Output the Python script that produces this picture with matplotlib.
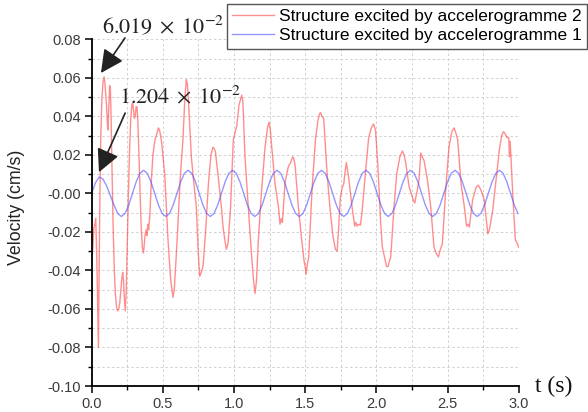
import numpy as np
import matplotlib
matplotlib.use("Agg")
import matplotlib.pyplot as plt
from matplotlib.ticker import MultipleLocator

# ---- data ----
red_t = [0.000, 0.008, 0.015, 0.022, 0.028, 0.033, 0.040, 0.047, 0.052, 0.058,
         0.064, 0.072, 0.080, 0.087, 0.092, 0.098, 0.104, 0.110, 0.114, 0.120,
         0.126, 0.131, 0.136, 0.142, 0.150, 0.158, 0.166, 0.175, 0.182, 0.190,
         0.197, 0.205, 0.212, 0.218, 0.224, 0.230, 0.236, 0.242, 0.250, 0.258,
         0.266, 0.274, 0.282, 0.288, 0.294, 0.300, 0.306, 0.312, 0.318, 0.324,
         0.332, 0.340, 0.348, 0.356, 0.364, 0.370, 0.376, 0.382, 0.388, 0.394,
         0.400, 0.408, 0.418, 0.430, 0.445, 0.458, 0.468, 0.476, 0.484, 0.492,
         0.513, 0.536, 0.555, 0.571, 0.580, 0.592, 0.606, 0.622, 0.641, 0.655,
         0.665, 0.672, 0.680, 0.700, 0.718, 0.735, 0.748, 0.759, 0.770, 0.782,
         0.800, 0.820, 0.838, 0.852, 0.862, 0.869, 0.890, 0.911, 0.923, 0.935,
         0.946, 0.958, 0.975, 0.995, 1.019, 1.035, 1.047, 1.054, 1.062, 1.077,
         1.100, 1.124, 1.138, 1.148, 1.158, 1.171, 1.194, 1.218, 1.235, 1.246,
         1.255, 1.265, 1.288, 1.312, 1.323, 1.333, 1.340, 1.358, 1.370, 1.382,
         1.398, 1.412, 1.420, 1.429, 1.452, 1.475, 1.492, 1.500, 1.506, 1.515,
         1.525, 1.548, 1.572, 1.590, 1.600, 1.607, 1.618, 1.630, 1.654, 1.677,
         1.695, 1.712, 1.724, 1.735, 1.747, 1.760, 1.771, 1.780, 1.789, 1.805,
         1.829, 1.848, 1.856, 1.864, 1.876, 1.888, 1.899, 1.923, 1.946, 1.965,
         1.980, 1.994, 2.010, 2.030, 2.042, 2.060, 2.072, 2.082, 2.092, 2.101,
         2.124, 2.143, 2.165, 2.183, 2.195, 2.207, 2.230, 2.253, 2.262, 2.270,
         2.280, 2.288, 2.300, 2.312, 2.322, 2.335, 2.359, 2.382, 2.405, 2.420,
         2.436, 2.450, 2.464, 2.487, 2.510, 2.530, 2.546, 2.560, 2.571, 2.595,
         2.618, 2.634, 2.645, 2.653, 2.676, 2.700, 2.716, 2.735, 2.758, 2.770,
         2.783, 2.794, 2.817, 2.841, 2.864, 2.880, 2.893, 2.905, 2.917, 2.930,
         2.935, 2.940, 2.958, 2.976, 2.990, 3.000]
red_v = [-0.035, -0.028, -0.018, -0.016, -0.013, -0.025, -0.050, -0.080, -0.040, 0.000,
         0.030, 0.050, 0.058, 0.0605, 0.058, 0.052, 0.046, 0.036, 0.033, 0.045,
         0.056, 0.055, 0.040, 0.015, -0.015, -0.038, -0.052, -0.059, -0.061, -0.060,
         -0.057, -0.050, -0.044, -0.041, -0.046, -0.055, -0.061, -0.052, -0.025, 0.000,
         0.022, 0.038, 0.046, 0.047, 0.043, 0.039, 0.040, 0.045, 0.045, 0.038,
         0.020, 0.000, -0.018, -0.028, -0.031, -0.026, -0.021, -0.019, -0.022, -0.016,
         -0.019, -0.012, 0.005, 0.020, 0.028, 0.031, 0.034, 0.033, 0.030, 0.026,
         0.010, -0.024, -0.045, -0.054, -0.050, -0.035, -0.016, 0.008, 0.028, 0.050,
         0.059, 0.057, 0.048, 0.019, 0.005, -0.007, -0.030, -0.043, -0.041, -0.038,
         -0.020, 0.005, 0.020, 0.024, 0.023, 0.0216, 0.008, -0.007, -0.0175, -0.024,
         -0.029, -0.026, -0.008, 0.028, 0.035, 0.046, 0.049, 0.051, 0.048, 0.019,
         -0.007, -0.033, -0.046, -0.052, -0.045, -0.024, 0.002, 0.024, 0.034, 0.037,
         0.033, 0.024, 0.005, -0.007, -0.016, -0.013, -0.015, 0.005, 0.010, 0.014,
         0.016, 0.019, 0.018, 0.0147, -0.007, -0.024, -0.035, -0.038, -0.042, -0.037,
         -0.033, 0.002, 0.028, 0.038, 0.041, 0.042, 0.040, 0.039, 0.010, -0.010,
         -0.022, -0.029, -0.030, -0.018, -0.002, 0.003, 0.005, 0.011, 0.016, 0.0085,
         -0.007, -0.017, -0.015, -0.017, -0.016, -0.0165, -0.010, 0.0105, 0.029, 0.034,
         0.036, 0.033, 0.015, -0.015, -0.028, -0.034, -0.038, -0.038, -0.035, -0.033,
         -0.007, 0.010, 0.019, 0.022, 0.020, 0.0155, 0.0035, -0.002, -0.004, -0.005,
         -0.001, 0.0017, 0.007, 0.021, 0.019, 0.017, 0.007, -0.007, -0.028, -0.031,
         -0.033, -0.029, -0.026, 0.0017, 0.024, 0.032, 0.034, 0.031, 0.028, 0.005,
         -0.007, -0.017, -0.016, -0.0175, -0.0035, 0.003, 0.0043, 0.0017, -0.0035, -0.012,
         -0.021, -0.019, -0.009, 0.007, 0.0225, 0.030, 0.032, 0.031, 0.029, 0.029,
         0.019, 0.027, 0.000, -0.024, -0.026, -0.028]

blue_dt = 0.3125 / 12
blue_v = [0.0, 0.0055, 0.0085, 0.0075, 0.0040, -0.0010, -0.0060, -0.0104,
          -0.012, -0.0104, -0.006, 0.0, 0.006, 0.0104, 0.012, 0.0104, 0.006, 0.0, -0.006, -0.0104,
          -0.012, -0.0104, -0.006, 0.0, 0.006, 0.0104, 0.012, 0.0104, 0.006, 0.0, -0.006, -0.0104,
          -0.012, -0.0104, -0.006, 0.0, 0.006, 0.0104, 0.012, 0.0104, 0.006, 0.0, -0.006, -0.0104,
          -0.012, -0.0104, -0.006, 0.0, 0.006, 0.0104, 0.012, 0.0104, 0.006, 0.0, -0.006, -0.0104,
          -0.012, -0.0104, -0.006, 0.0, 0.006, 0.0104, 0.012, 0.0104, 0.006, 0.0, -0.006, -0.0104,
          -0.012, -0.0104, -0.006, 0.0, 0.006, 0.0104, 0.012, 0.0104, 0.006, 0.0, -0.006, -0.0104,
          -0.012, -0.0104, -0.006, 0.0, 0.006, 0.0104, 0.012, 0.0104, 0.006, 0.0, -0.006, -0.0104,
          -0.012, -0.0104, -0.006, 0.0, 0.006, 0.0104, 0.012, 0.0104, 0.006, 0.0, -0.006, -0.0104,
          -0.012, -0.0104, -0.006, 0.0, 0.006, 0.0104, 0.012, 0.0104, 0.006, 0.0, -0.006, -0.0104]
blue_t = np.arange(len(blue_v)) * blue_dt

label_red = "Structure excited by accelerogramme 2"
label_blue = "Structure excited by accelerogramme 1"
ann_peak_red = (0.065, 0.0625)
ann_peak_blue = (0.051, 0.011)
ann_text_red = r"$6.019\;\times\;10^{-2}$"
ann_text_blue = r"$1.204\;\times\;10^{-2}$"

plt.rcParams['font.family'] = ['Liberation Sans', 'DejaVu Sans']
plt.rcParams['mathtext.fontset'] = 'stix'

W, H = 588, 412
fig = plt.figure(figsize=(W / 100, H / 100), dpi=100)
ax = fig.add_axes([91.7 / W, 1 - 386 / H, (518.7 - 91.7) / W, (386 - 39.3) / H])

lr, = ax.plot(red_t, red_v, color='#ff3030', alpha=0.55, lw=1.0, label=label_red)
lb, = ax.plot(blue_t, blue_v, color='#5050ff', alpha=0.6, lw=1.0, label=label_blue)

ax.set_xlim(0, 3.0)
ax.set_ylim(-0.10, 0.08)
ax.xaxis.set_major_locator(MultipleLocator(0.5))
ax.xaxis.set_minor_locator(MultipleLocator(0.25))
ax.yaxis.set_major_locator(MultipleLocator(0.02))
ax.yaxis.set_minor_locator(MultipleLocator(0.01))
ax.xaxis.set_major_formatter(plt.FuncFormatter(lambda v, p: f"{v:.1f}"))
ax.yaxis.set_major_formatter(plt.FuncFormatter(lambda v, p: f"{v:.2f}"))
ax.grid(True, which='both', color='#d0d0d0', lw=0.7, ls=(0, (2.5, 2.5)))
ax.set_axisbelow(True)
for s in ['top', 'right']:
    ax.spines[s].set_visible(False)
for s in ['left', 'bottom']:
    ax.spines[s].set_linewidth(1.3)
ax.tick_params(which='major', direction='out', length=5, width=1.1, labelsize=10.5,
               labelcolor='#3a3a3a', pad=3)
ax.tick_params(which='minor', direction='out', length=3, width=1.0)

ax.set_ylabel("Velocity (cm/s)", fontsize=12.8, color='#222222')
ax.yaxis.set_label_coords(-0.156, 0.516)
ax.text(1.038, 0.0, "t (s)", transform=ax.transAxes, fontsize=17, family='Liberation Serif',
        ha='left', va='center', color='#111111')

arrow_kw = dict(arrowstyle='-|>,head_length=0.7,head_width=0.35', color='#222222', lw=1.2,
                mutation_scale=20, shrinkA=0, shrinkB=0)
ax.annotate('', xy=ann_peak_red, xytext=(0.234, 0.0807), arrowprops=arrow_kw, annotation_clip=False)
ax.annotate('', xy=ann_peak_blue, xytext=(0.235, 0.0417), arrowprops=arrow_kw, annotation_clip=False)
ax.text(0.505, 0.0868, ann_text_red, fontsize=16, ha='center', va='center', color='#222222', clip_on=False)
ax.text(0.62, 0.050, ann_text_blue, fontsize=16, ha='center', va='center', color='#222222', clip_on=False)

leg = fig.legend(handles=[lr, lb], loc='upper right', bbox_to_anchor=(587 / W, 1 - 4 / H),
                 fontsize=12.5, frameon=True, fancybox=False, framealpha=1, edgecolor='#555555',
                 borderpad=0.3, handlelength=2.4, handletextpad=0.3, labelspacing=0.22,
                 borderaxespad=0)
leg.get_frame().set_linewidth(1.0)
for l in leg.get_lines():
    l.set_linewidth(1.0)

fig.savefig("out.png", dpi=100)
